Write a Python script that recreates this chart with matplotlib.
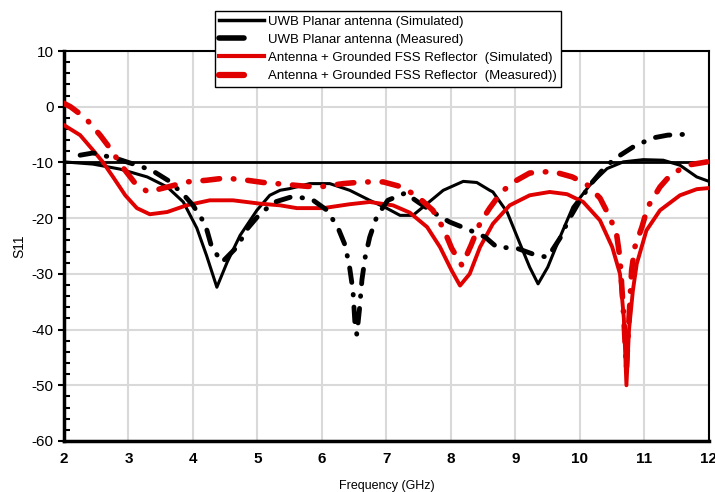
import matplotlib
matplotlib.use("Agg")
import matplotlib.pyplot as plt
from matplotlib.lines import Line2D

plt.rcParams["font.family"] = ["Liberation Sans", "DejaVu Sans"]
plt.rcParams["axes.unicode_minus"] = False

# --- données (fréquence en GHz, S11 en dB) ---
f_sim_ant = [2.0, 2.45, 2.87, 3.29, 3.6, 3.85, 4.06, 4.21, 4.37, 4.53, 4.73, 4.99,
             5.19, 5.35, 5.5, 5.81, 6.12, 6.43, 6.74, 7.0, 7.21, 7.41, 7.63, 7.88,
             8.19, 8.4, 8.6, 8.65, 8.87, 9.07, 9.22, 9.35, 9.5, 9.69, 9.89, 10.15,
             10.42, 10.67, 10.98, 11.29, 11.55, 11.81, 12.0]
s11_sim_ant = [-9.9, -10.3, -11.2, -12.6, -14.4, -17.1, -21.8, -26.7, -32.4, -27.9,
               -23.1, -18.6, -15.9, -15.0, -14.7, -13.8, -13.8, -15.0, -16.8, -18.2,
               -19.5, -19.5, -17.4, -15.0, -13.4, -13.6, -15.0, -15.3, -18.9, -24.6,
               -28.8, -31.8, -28.8, -23.4, -18.0, -14.1, -11.1, -9.9, -9.5, -9.6,
               -10.5, -12.6, -13.4]

f_mes_ant = [2.25, 2.45, 2.84, 3.13, 3.36, 3.61, 3.84, 4.0, 4.19, 4.29, 4.45, 4.68,
             4.85, 5.04, 5.27, 5.55, 5.84, 6.08, 6.25, 6.36, 6.43, 6.48, 6.51, 6.54,
             6.58, 6.62, 6.67, 6.74, 6.85, 7.02, 7.29, 7.5, 7.8, 7.98, 8.26, 8.53,
             8.71, 9.02, 9.33, 9.5, 9.69, 9.82, 9.97, 10.15, 10.39, 10.57, 10.84,
             11.13, 11.36, 11.72]
s11_mes_ant = [-8.7, -8.3, -9.4, -10.5, -11.4, -13.2, -15.6, -17.7, -21.1, -25.2,
               -27.9, -25.2, -21.8, -19.2, -17.1, -16.1, -16.6, -18.6, -21.8, -24.9,
               -29.0, -33.0, -38.7, -40.9, -36.5, -31.0, -27.0, -23.4, -19.7, -16.8,
               -15.5, -17.2, -19.5, -20.7, -22.0, -23.4, -25.2, -25.4, -26.7, -27.0,
               -23.6, -20.4, -17.4, -14.1, -10.8, -9.1, -7.1, -5.6, -5.1, -4.9]

f_sim_fss = [2.0, 2.25, 2.45, 2.6, 2.76, 2.95, 3.13, 3.33, 3.6, 3.9, 4.26, 4.62,
             5.04, 5.35, 5.61, 6.02, 6.43, 6.74, 7.1, 7.36, 7.63, 7.83, 8.01, 8.14,
             8.29, 8.45, 8.65, 8.91, 9.22, 9.53, 9.8, 10.05, 10.31, 10.5, 10.62,
             10.68, 10.72, 10.76, 10.82, 10.88, 11.03, 11.24, 11.55, 11.81, 12.0]
s11_sim_fss = [-3.3, -5.1, -7.8, -9.9, -12.6, -15.9, -18.2, -19.3, -18.9, -17.7,
               -16.8, -16.8, -17.4, -17.7, -18.2, -18.2, -17.5, -17.1, -17.7, -19.0,
               -21.6, -25.2, -29.4, -32.1, -30.0, -25.2, -21.0, -17.7, -15.9, -15.3,
               -15.7, -17.1, -20.4, -25.2, -30.0, -38.0, -50.0, -40.0, -33.0, -28.2,
               -22.2, -18.6, -15.9, -14.8, -14.6]

f_mes_fss = [2.0, 2.1, 2.33, 2.56, 2.71, 2.9, 3.1, 3.3, 3.61, 3.9, 4.21, 4.5, 4.84,
             5.09, 5.4, 5.77, 6.02, 6.33, 6.64, 6.95, 7.24, 7.49, 7.72, 7.88, 8.01,
             8.17, 8.31, 8.45, 8.6, 8.79, 9.02, 9.22, 9.57, 9.88, 10.1, 10.31, 10.47,
             10.57, 10.62, 10.68, 10.72, 10.76, 10.8, 10.85, 10.96, 11.05, 11.24,
             11.4, 11.66, 11.97]
s11_mes_fss = [0.6, 0.0, -2.0, -5.1, -7.4, -10.7, -13.7, -15.3, -14.4, -13.5, -13.2,
               -12.8, -13.2, -13.6, -13.9, -14.3, -14.3, -13.8, -13.5, -13.5, -14.4,
               -16.2, -18.6, -21.8, -25.4, -28.5, -24.9, -20.9, -18.2, -15.2, -13.2,
               -11.9, -11.6, -12.6, -13.9, -16.4, -20.0, -23.1, -27.2, -38.0, -47.0,
               -38.0, -29.4, -25.2, -21.6, -18.0, -14.4, -12.3, -10.5, -9.9]

labels = ["UWB Planar antenna (Simulated)",
          "UWB Planar antenna (Measured)",
          "Antenna + Grounded FSS Reflector  (Simulated)",
          "Antenna + Grounded FSS Reflector  (Measured))"]

SEUIL = -10  # ligne de référence -10 dB

RED = "#e00000"
DASHDOT = (0, (3, 2.5, 0.1, 2.5))

fig = plt.figure(figsize=(7.15, 4.92), dpi=100)
ax = fig.add_axes([0.0895, 0.1037, 0.9021, 0.7926])

ax.axhline(SEUIL, color="black", lw=2, zorder=2)
ax.plot(f_sim_ant, s11_sim_ant, color="black", lw=2.2, zorder=3)
ax.plot(f_mes_ant, s11_mes_ant, color="black", lw=3.5, zorder=4,
        ls=DASHDOT, dash_capstyle="round")
ax.plot(f_sim_fss, s11_sim_fss, color=RED, lw=2.8, zorder=3)
ax.plot(f_mes_fss, s11_mes_fss, color=RED, lw=4, zorder=4,
        ls=DASHDOT, dash_capstyle="round")

ax.set_xlim(2, 12)
ax.set_ylim(-60, 10)
ax.set_xticks(range(2, 13))
ax.set_yticks(range(-60, 11, 10))
ax.set_yticks(range(-60, 11, 2), minor=True)
ax.grid(True, which="major", color="#d9d9d9", lw=1.5, zorder=0)
ax.set_axisbelow(True)

for side in ["top", "right"]:
    ax.spines[side].set_linewidth(1.5)
ax.spines["left"].set_linewidth(2.5)
ax.spines["bottom"].set_linewidth(2.5)
ax.tick_params(axis="y", which="major", direction="out", length=4, width=1.5,
               labelsize=11)
ax.tick_params(axis="y", which="minor", direction="in", length=4, width=1.5)
ax.tick_params(axis="x", which="major", direction="out", length=0, labelsize=11,
               pad=8)
for lab in ax.get_xticklabels():
    lab.set_fontweight("bold")

ax.set_xlabel("Frequency (GHz)", fontsize=9, labelpad=10)
ax.set_ylabel("S11", fontsize=10, labelpad=4)

# légende : les courbes mesurées n'y montrent qu'un seul trait court
handles = [
    Line2D([], [], color="black", lw=2.5),
    Line2D([], [], color="black", lw=4, ls=(0, (4.5, 20)), dash_capstyle="round"),
    Line2D([], [], color=RED, lw=3),
    Line2D([], [], color=RED, lw=4.5, ls=(0, (4, 20)), dash_capstyle="round"),
]
leg = fig.legend(handles, labels, loc="upper left",
                 bbox_to_anchor=(0.300, 0.978), fontsize=9.5, frameon=True,
                 fancybox=False, framealpha=1, edgecolor="black",
                 handlelength=3.4, handletextpad=0.3, borderpad=0.35,
                 labelspacing=0.45, borderaxespad=0)
leg.get_frame().set_linewidth(1.0)

fig.savefig("out.png", dpi=100)
